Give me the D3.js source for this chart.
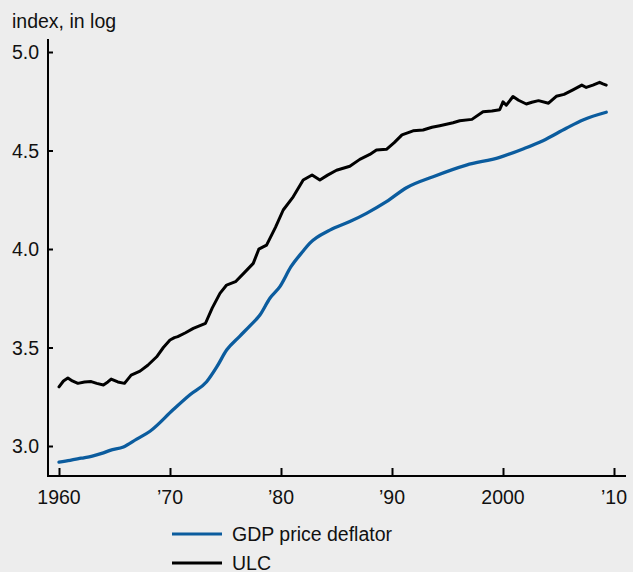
<!DOCTYPE html>
<html>
<head>
<meta charset="utf-8">
<script src="https://cdn.jsdelivr.net/npm/d3@7"></script>
<style>
  html, body { margin: 0; padding: 0; background: #ededed; }
  svg { display: block; font-family: "Liberation Sans", Arial, sans-serif; }
</style>
</head>
<body>
<div class="chart"></div>
<script>
// ULC (unit labour cost), log index
var ulcYears = [1960.0, 1960.4, 1960.8, 1961.2, 1961.7, 1962.3, 1962.9, 1963.4, 1964.0, 1964.4,
  1964.7, 1965.3, 1965.9, 1966.5, 1967.3, 1968.0, 1968.8, 1969.4, 1970.0, 1970.4,
  1970.7, 1971.4, 1972.1, 1973.2, 1973.8, 1974.5, 1975.1, 1975.9, 1976.7, 1977.5,
  1978.0, 1978.7, 1979.5, 1980.2, 1981.1, 1982.0, 1982.8, 1983.5, 1984.2, 1985.0,
  1986.2, 1987.1, 1988.0, 1988.6, 1989.5, 1990.2, 1990.9, 1991.9, 1992.8, 1993.6,
  1994.3, 1995.5, 1996.1, 1997.2, 1998.2, 1999.0, 1999.7, 2000.0, 2000.3, 2000.9,
  2001.4, 2002.1, 2002.6, 2003.2, 2004.1, 2004.8, 2005.5, 2006.3, 2007.1,
  2007.5, 2008.1, 2008.7, 2009.0, 2009.3];
var ulcValues = [3.30, 3.33, 3.345, 3.33, 3.318, 3.325, 3.327, 3.318, 3.31, 3.325,
  3.34, 3.325, 3.318, 3.36, 3.38, 3.41, 3.453, 3.50, 3.538, 3.55,
  3.555, 3.575, 3.597, 3.623, 3.70, 3.775, 3.817, 3.834, 3.88, 3.927,
  3.999, 4.02, 4.11, 4.198, 4.265, 4.35, 4.376, 4.35, 4.375, 4.40,
  4.42, 4.455, 4.48, 4.503, 4.506, 4.54, 4.579, 4.60, 4.604, 4.618,
  4.626, 4.641, 4.651, 4.658, 4.697, 4.700, 4.707, 4.747, 4.730, 4.774,
  4.755, 4.736, 4.745, 4.753, 4.740, 4.775, 4.785, 4.808, 4.832,
  4.820, 4.832, 4.846, 4.838, 4.832];

// GDP price deflator, log index
var gdpYears = [1960.0, 1961.0, 1962.0, 1963.0, 1964.0, 1964.6, 1965.8, 1967.0, 1968.2,
  1970.3, 1971.8, 1973.3, 1974.2, 1975.1, 1976.3, 1977.2, 1978.1, 1979.0, 1979.9,
  1980.9, 1982.0, 1982.6, 1984.4, 1986.2, 1987.7, 1989.5, 1991.3, 1993.7, 1996.7,
  1999.7, 2001.8, 2003.6, 2005.7, 2007.2, 2009.3];
var gdpValues = [2.918, 2.927, 2.938, 2.949, 2.965, 2.978, 2.995, 3.035, 3.075,
  3.185, 3.26, 3.326, 3.40, 3.487, 3.558, 3.61, 3.665, 3.75, 3.809,
  3.91, 3.99, 4.03, 4.096, 4.139, 4.181, 4.24, 4.311, 4.367, 4.426,
  4.465, 4.508, 4.55, 4.613, 4.655, 4.694];

var xTicks = [1960, 1970, 1980, 1990, 2000, 2010];
var xTickLabels = ['1960', '\u201970', '\u201980', '\u201990', '2000', '\u201910'];
var yTicks = [3.0, 3.5, 4.0, 4.5, 5.0];

var seriesNames = ['GDP price deflator', 'ULC'];
var seriesColors = ['#0b5c9e', '#000000'];

function init() {
  var width = 633,
      height = 572,
      axisX = 48,
      axisY = 476,
      fontSize = 19.5;

  var svg = d3.select('.chart')
    .append('svg')
      .attr('width', width)
      .attr('height', height);

  svg.append('rect')
      .attr('width', width)
      .attr('height', height)
      .attr('fill', '#ededed');

  var x = d3.scaleLinear().domain([1960, 2010]).range([59, 614]);
  var y = d3.scaleLinear().domain([3.0, 5.0]).range([446, 52]);

  // y axis
  svg.append('line')
      .attr('x1', axisX).attr('x2', axisX)
      .attr('y1', 39).attr('y2', axisY + 1)
      .attr('stroke', '#000').attr('stroke-width', 2);

  var yAxis = d3.axisRight(y).tickValues(yTicks).tickSize(5).tickFormat('');
  var gy = svg.append('g')
      .attr('transform', 'translate(' + axisX + ',0)')
      .call(yAxis);
  gy.select('.domain').remove();
  gy.selectAll('.tick line').attr('stroke', '#000').attr('stroke-width', 2);

  svg.selectAll('text.ylab')
      .data(yTicks)
    .enter().append('text')
      .attr('class', 'ylab')
      .attr('x', 39)
      .attr('y', function(d) { return y(d); })
      .attr('dy', '0.36em')
      .attr('text-anchor', 'end')
      .attr('font-size', fontSize)
      .attr('fill', '#111')
      .text(function(d) { return d3.format('.1f')(d); });

  // x axis
  svg.append('line')
      .attr('x1', axisX - 1).attr('x2', 626)
      .attr('y1', axisY).attr('y2', axisY)
      .attr('stroke', '#000').attr('stroke-width', 2);

  var xAxis = d3.axisTop(x).tickValues(xTicks).tickSize(8).tickFormat('');
  var gx = svg.append('g')
      .attr('transform', 'translate(0,' + axisY + ')')
      .call(xAxis);
  gx.select('.domain').remove();
  gx.selectAll('.tick line').attr('stroke', '#000').attr('stroke-width', 2);

  svg.selectAll('text.xlab')
      .data(xTicks)
    .enter().append('text')
      .attr('class', 'xlab')
      .attr('x', function(d) { return x(d); })
      .attr('y', 504)
      .attr('text-anchor', 'middle')
      .attr('font-size', fontSize)
      .attr('fill', '#111')
      .text(function(d, i) { return xTickLabels[i]; });

  svg.append('text')
      .attr('x', 12)
      .attr('y', 28)
      .attr('font-size', fontSize)
      .attr('fill', '#111')
      .text('index, in log');

  // lines
  var line = d3.line()
      .x(function(d) { return x(d[0]); })
      .y(function(d) { return y(d[1]); });

  var gdp = gdpYears.map(function(d, i) { return [d, gdpValues[i]]; });
  var ulc = ulcYears.map(function(d, i) { return [d, ulcValues[i]]; });

  svg.append('path')
      .datum(gdp)
      .attr('fill', 'none')
      .attr('stroke', seriesColors[0])
      .attr('stroke-width', 3.3)
      .attr('stroke-linejoin', 'round')
      .attr('stroke-linecap', 'round')
      .attr('d', line.curve(d3.curveMonotoneX));

  svg.append('path')
      .datum(ulc)
      .attr('fill', 'none')
      .attr('stroke', seriesColors[1])
      .attr('stroke-width', 3)
      .attr('stroke-linejoin', 'round')
      .attr('stroke-linecap', 'round')
      .attr('d', line.curve(d3.curveLinear));

  // legend
  var legend = svg.selectAll('g.legend')
      .data(seriesNames)
    .enter().append('g')
      .attr('class', 'legend')
      .attr('transform', function(d, i) { return 'translate(172,' + (534 + i * 29) + ')'; });

  legend.append('line')
      .attr('x1', 0).attr('x2', 50)
      .attr('stroke', function(d, i) { return seriesColors[i]; })
      .attr('stroke-width', 3);

  legend.append('text')
      .attr('x', 60)
      .attr('dy', '0.36em')
      .attr('font-size', fontSize)
      .attr('fill', '#111')
      .text(function(d) { return d; });
}

d3.select(window).on('load', init);
</script>
</body>
</html>
